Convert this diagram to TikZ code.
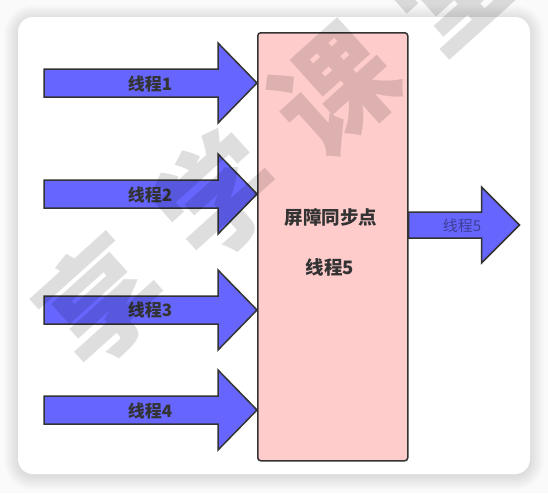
\documentclass[tikz,border=0pt]{standalone}
\usepackage{fontspec}
\setmainfont{Noto Sans CJK SC}
\usetikzlibrary{calc}
\definecolor{arrowblue}{RGB}{102,102,255}
\definecolor{edgegray}{RGB}{51,51,51}
\definecolor{barpink}{RGB}{255,204,204}
\definecolor{labeltext}{RGB}{51,51,51}
\definecolor{outtext}{RGB}{62,62,150}
\definecolor{pagebg}{RGB}{250,250,250}
\begin{document}
\begin{tikzpicture}[x=1pt,y=-1pt,
  arrowshape/.style={fill=arrowblue,draw=edgegray,line width=1.5pt,line join=miter},
  barbox/.style={fill=barpink,draw=edgegray,line width=1.5pt,rounded corners=3pt,inner sep=0pt},
  inlabel/.style={font=\fontsize{17}{17}\selectfont\bfseries,text=labeltext,inner sep=0pt},
  boxlabel/.style={font=\fontsize{18.5}{18.5}\selectfont\bfseries,text=labeltext,inner sep=0pt},
  outlabel/.style={font=\fontsize{15}{15}\selectfont,text=outtext,inner sep=0pt},
  wm/.style={font=\fontsize{118}{118}\selectfont\bfseries,text=black,text opacity=0.13,inner sep=0pt,rotate=42},
  pics/inarrow/.style={code={
    \draw[arrowshape] (-213,-14) -- (-39,-14) -- (-39,-40) -- (0,0) -- (-39,40) -- (-39,14) -- (-213,14) -- cycle;}},
  pics/outarrow/.style={code={
    \draw[arrowshape] (0,-13) -- (73,-13) -- (73,-38) -- (111,0) -- (73,38) -- (73,13) -- (0,13) -- cycle;}}
]
\useasboundingbox (0,0) rectangle (548,493);
\clip (0,0) rectangle (548,493);
% background and card shadow
\fill[pagebg] (0,0) rectangle (548,493);
\foreach \k in {1,...,14}{
  \fill[black,opacity=0.008,rounded corners={15+\k}] (18-\k,17-\k+2) rectangle (530+\k,474+\k+2);
}
\fill[white,rounded corners=15pt] (18,17) rectangle (530,474);

% barrier box
\node[barbox,minimum width=150pt,minimum height=428pt,anchor=north west] (bar) at (257,32) {};

% tips of the incoming arrows on the box
\coordinate (t1) at (bar.west |- 0,83);
\coordinate (t2) at (bar.west |- 0,194);
\coordinate (t3) at (bar.west |- 0,310);
\coordinate (t4) at (bar.west |- 0,410);
\coordinate (t5) at (bar.east |- 0,225);

\pic at (t1) {inarrow};
\pic at (t2) {inarrow};
\pic at (t3) {inarrow};
\pic at (t4) {inarrow};
\pic at (t5) {outarrow};

\node[inlabel] (l1) at (150,84) {线程1};
\node[inlabel] (l2) at (150,195) {线程2};
\node[inlabel] (l3) at (150,310) {线程3};
\node[inlabel] (l4) at (150,411) {线程4};
\node[outlabel] (l5) at (462,226) {线程5};

\node[boxlabel] (title) at (331,217) {屏障同步点};
\node[boxlabel] (sub) at (330,267) {线程5};

% watermark
\node[wm] (w1) at (100,300) {享};
\node[wm] (w2) at (218,195) {学};
\node[wm] (w3) at (335,90) {课};
\node[wm] (w4) at (452,-15) {堂};
\end{tikzpicture}
\end{document}
